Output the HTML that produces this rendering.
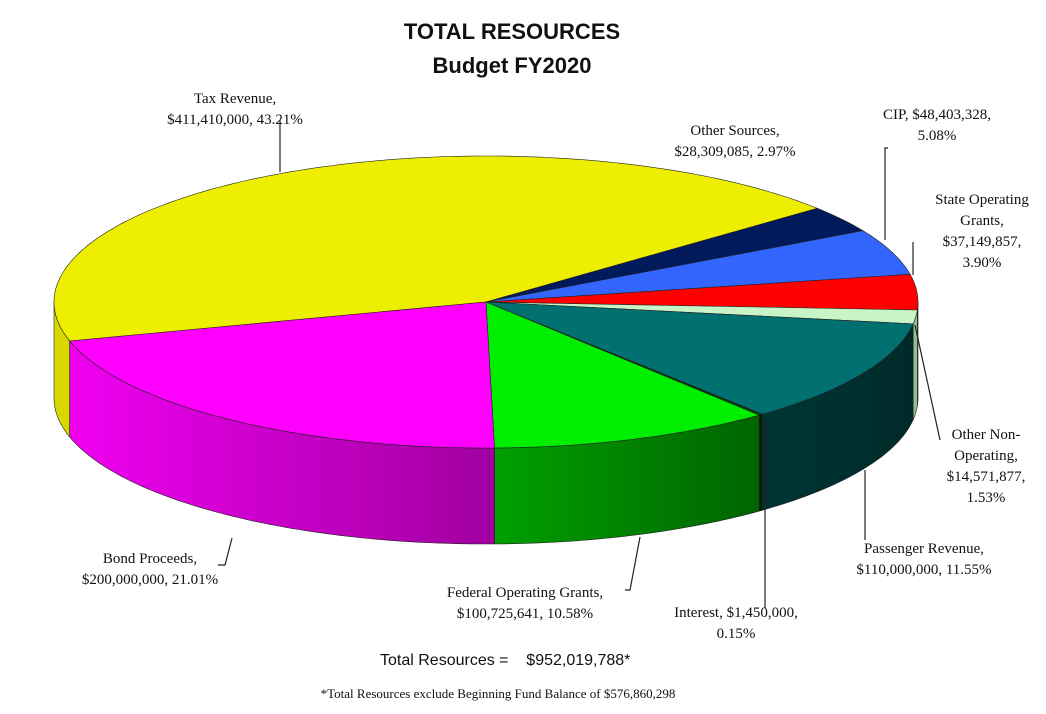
<!DOCTYPE html>
<html><head><meta charset="utf-8"><style>
body{margin:0;background:#fff;}
svg text{font-family:"Liberation Serif",serif;font-size:15px;fill:#111;}
</style></head><body>
<svg width="1046" height="709" viewBox="0 0 1046 709">
<defs>
<linearGradient id="gPink" x1="0" x2="1" y1="0" y2="0"><stop offset="0" stop-color="#f000f0"/><stop offset="1" stop-color="#a000a0"/></linearGradient>
<linearGradient id="gGreen" x1="0" x2="1" y1="0" y2="0"><stop offset="0" stop-color="#00a000"/><stop offset="1" stop-color="#006400"/></linearGradient>
<linearGradient id="gTeal" x1="0" x2="1" y1="0" y2="0"><stop offset="0" stop-color="#003535"/><stop offset="1" stop-color="#002a2a"/></linearGradient>
</defs>
<g>
<text x="512" y="39" text-anchor="middle" style="font-family:'Liberation Sans',sans-serif;font-weight:bold;font-size:22px">TOTAL RESOURCES</text>
<text x="512" y="73" text-anchor="middle" style="font-family:'Liberation Sans',sans-serif;font-weight:bold;font-size:22px">Budget FY2020</text>
</g>
<g id="sides"></g>
<g id="tops"></g>
<g stroke="#222" fill="none" stroke-width="1.2">
<path d="M280,120 V172"/>
<path d="M888,148 H885 V240"/>
<path d="M913,242 V275"/>
<path d="M915,325 L940,440"/>
<path d="M865,470 V540"/>
<path d="M765,420 V608"/>
<path d="M640,537 L630,590 H625"/>
<path d="M232,538 L225,565 H218"/>
</g>
<g>
<text x="235" y="103" text-anchor="middle">Tax Revenue,</text>
<text x="235" y="124" text-anchor="middle">$411,410,000, 43.21%</text>
<text x="735" y="135" text-anchor="middle">Other Sources,</text>
<text x="735" y="156" text-anchor="middle">$28,309,085, 2.97%</text>
<text x="937" y="119" text-anchor="middle">CIP, $48,403,328,</text>
<text x="937" y="140" text-anchor="middle">5.08%</text>
<text x="982" y="204" text-anchor="middle">State Operating</text>
<text x="982" y="225" text-anchor="middle">Grants,</text>
<text x="982" y="246" text-anchor="middle">$37,149,857,</text>
<text x="982" y="267" text-anchor="middle">3.90%</text>
<text x="986" y="439" text-anchor="middle">Other Non-</text>
<text x="986" y="460" text-anchor="middle">Operating,</text>
<text x="986" y="481" text-anchor="middle">$14,571,877,</text>
<text x="986" y="502" text-anchor="middle">1.53%</text>
<text x="924" y="553" text-anchor="middle">Passenger Revenue,</text>
<text x="924" y="574" text-anchor="middle">$110,000,000, 11.55%</text>
<text x="736" y="617" text-anchor="middle">Interest, $1,450,000,</text>
<text x="736" y="638" text-anchor="middle">0.15%</text>
<text x="525" y="597" text-anchor="middle">Federal Operating Grants,</text>
<text x="525" y="618" text-anchor="middle">$100,725,641, 10.58%</text>
<text x="150" y="563" text-anchor="middle">Bond Proceeds,</text>
<text x="150" y="584" text-anchor="middle">$200,000,000, 21.01%</text>
</g>
<text x="380" y="665" style="font-family:'Liberation Sans',sans-serif;font-size:16px">Total Resources =&#160;&#160;&#160; $952,019,788*</text>
<text x="498" y="698" text-anchor="middle" style="font-size:13px">*Total Resources exclude Beginning Fund Balance of $576,860,298</text>
</svg>
<script>
const categories=["Tax Revenue","Other Sources","CIP","State Operating Grants","Other Non-Operating","Passenger Revenue","Interest","Federal Operating Grants","Bond Proceeds"];
const values=[411410000,28309085,48403328,37149857,14571877,110000000,1450000,100725641,200000000];
const topColors=["#eeee00","#001a5c","#3366ff","#ff0000","#c8f5c8","#007070","#004000","#00ee00","#ff00ff"];
const sideColors=["#d8d800","#001040","#2040b0","#b00000","#90c090","url(#gTeal)","#002000","url(#gGreen)","url(#gPink)"];
const cx=486,cy=302,rx=432,ry=146,depth=96,startDeg=164.5;
const NS="http://www.w3.org/2000/svg";
function pt(t,dy){const r=t*Math.PI/180;return [cx+rx*Math.cos(r),cy+ry*Math.sin(r)+(dy||0)];}
function arc(a,b,dy){let s="";const n=Math.max(2,Math.ceil(Math.abs(b-a)));for(let i=0;i<=n;i++){const p=pt(a+(b-a)*i/n,dy);s+=(i?"L":"")+p[0].toFixed(1)+","+p[1].toFixed(1);}return s;}
const total=values.reduce((a,b)=>a+b,0);
let t=startDeg;
const sides=document.getElementById("sides"),tops=document.getElementById("tops");
values.forEach((v,i)=>{
  const a=t,b=t+v/total*360;t=b;
  // front wall: visible t in [0,180] modulo 360
  [0,360].forEach(off=>{
    const lo=Math.max(a,off),hi=Math.min(b,off+180);
    if(hi>lo){
      const p=document.createElementNS(NS,"path");
      p.setAttribute("d","M"+arc(lo,hi,0)+"L"+arc(hi,lo,depth).slice(0)+"Z");
      p.setAttribute("fill",sideColors[i]);p.setAttribute("stroke","#222");p.setAttribute("stroke-width","0.6");
      
      
      sides.appendChild(p);
    }
  });
  const p=document.createElementNS(NS,"path");
  p.setAttribute("d","M"+cx+","+cy+"L"+arc(a,b,0)+"Z");
  p.setAttribute("fill",topColors[i]);p.setAttribute("stroke","#222");p.setAttribute("stroke-width","0.6");
  
  
  tops.appendChild(p);
});
</script>
</body></html>
